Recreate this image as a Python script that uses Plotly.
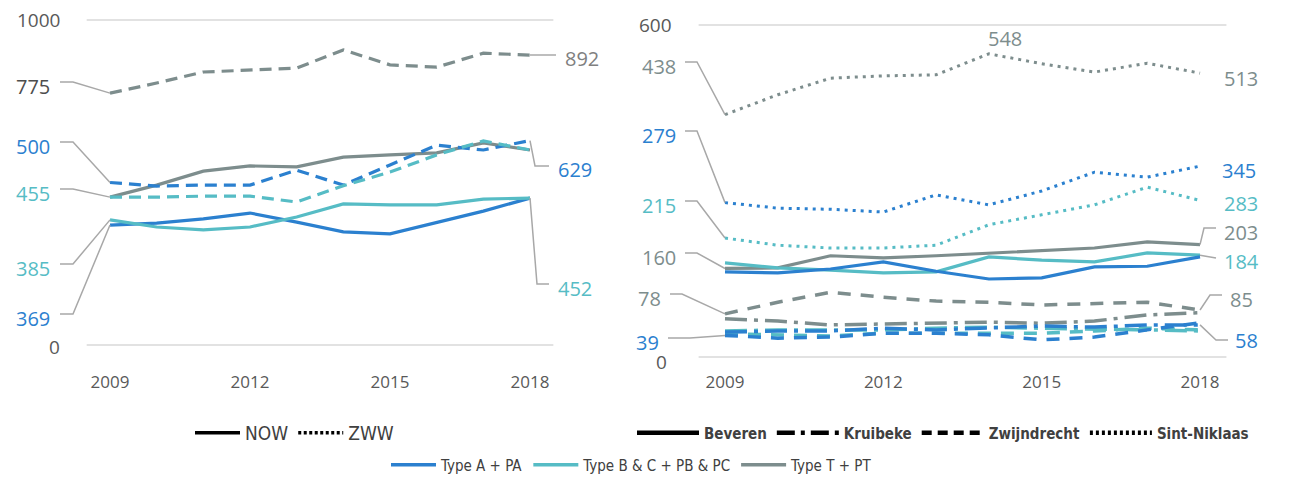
import plotly.graph_objects as go

W, H = 1297, 484
years = list(range(2009, 2019))
tick_years = [2009, 2012, 2015, 2018]

# ---- Left panel data: NOW (solid) / ZWW (dashed) ----
now_A = [369, 375, 388, 406, 378, 348, 342, 378, 412, 452]
now_B = [385, 363, 354, 363, 394, 434, 431, 431, 449, 452]
now_T = [455, 492, 535, 551, 548, 578, 585, 591, 622, 600]
zww_A = [500, 489, 492, 492, 538, 492, 554, 615, 600, 629]
zww_B = [455, 455, 458, 458, 440, 490, 532, 585, 628, 600]
zww_T = [775, 806, 840, 846, 852, 908, 862, 855, 898, 892]

# ---- Right panel data: municipalities ----
bev_A = [154, 152, 159, 172, 155, 141, 143, 163, 164, 181]
bev_B = [170, 161, 157, 152, 154, 181, 175, 172, 188, 184]
bev_T = [160, 161, 183, 179, 183, 188, 192, 197, 208, 203]
kru_A = [45, 47, 47, 52, 49, 52, 56, 54, 58, 58]
kru_B = [47, 49, 49, 49, 52, 54, 52, 51, 49, 47]
kru_T = [69, 65, 58, 60, 61, 63, 61, 65, 76, 80]
zwi_A = [39, 34, 36, 43, 43, 40, 31, 36, 49, 62]
zwi_B = [42, 40, 38, 43, 43, 43, 43, 47, 52, 49]
zwi_T = [78, 99, 117, 108, 101, 99, 94, 96, 99, 85]
sin_A = [279, 269, 267, 262, 293, 275, 300, 334, 325, 345]
sin_B = [215, 202, 197, 197, 202, 239, 257, 275, 307, 283]
sin_T = [438, 474, 504, 508, 510, 548, 530, 515, 531, 513]

BLUE, TEAL, GRAY = "#2b80cf", "#56bcc5", "#7d8d8d"
LEAD = "#a8a8a8"
AXT = "#595959"
NUMFONT = "Open Sans"
NARROW = "'DejaVu Sans Condensed', 'Liberation Sans Narrow', 'Open Sans', sans-serif"


# pixel <-> data helpers (layout only)
def xl(px): return 2009 + (px - 110) / 46.667
def yl(py): return (345 - py) / 0.325
def xr(px): return 2009 + (px - 725) / 52.78
def yr(py): return (357 - py) / 0.5533


PLOT_BOTTOM = 368
fig = go.Figure()

left_series = [
    (now_A, BLUE, "solid"), (now_B, TEAL, "solid"), (now_T, GRAY, "solid"),
    (zww_A, BLUE, "12px,7px"), (zww_B, TEAL, "12px,7px"), (zww_T, GRAY, "12px,7px"),
]
for vals, col, dash in left_series:
    fig.add_trace(go.Scatter(x=years, y=vals, mode="lines", showlegend=False,
                             line=dict(color=col, width=3.2, dash=dash),
                             xaxis="x", yaxis="y", hoverinfo="skip"))

KRU = "22px,7px,4px,7px"
ZWI = "13px,10px"
DOT = "3px,5px"
right_series = [
    (sin_T, GRAY, DOT, 3), (sin_A, BLUE, DOT, 3), (sin_B, TEAL, DOT, 3),
    (zwi_T, GRAY, ZWI, 3.5), (kru_T, GRAY, KRU, 3.5),
    (kru_B, TEAL, KRU, 3.5), (zwi_B, TEAL, ZWI, 3.5),
    (kru_A, BLUE, KRU, 3.5), (zwi_A, BLUE, ZWI, 3.5),
    (bev_T, GRAY, "solid", 3.2), (bev_B, TEAL, "solid", 3.2), (bev_A, BLUE, "solid", 3.2),
]
for vals, col, dash, w in right_series:
    fig.add_trace(go.Scatter(x=years, y=vals, mode="lines", showlegend=False,
                             line=dict(color=col, width=w, dash=dash),
                             xaxis="x2", yaxis="y2", hoverinfo="skip"))

annotations = []
shapes = []


def lead(xs, ys, ax, ay):
    fig.add_trace(go.Scatter(x=xs, y=ys, mode="lines", showlegend=False,
                             line=dict(color=LEAD, width=1.5),
                             xaxis=ax, yaxis=ay, hoverinfo="skip"))


def label(text, x, y, col, ax, ay, size=20, xanchor="left"):
    annotations.append(dict(text=text, x=x, y=y, xref=ax, yref=ay, showarrow=False,
                            xanchor=xanchor, yanchor="middle",
                            font=dict(family=NUMFONT, size=size, color=col)))


# ---- left panel gridlines / axis labels ----
for v in (0, 1000):
    shapes.append(dict(type="line", xref="x", yref="y", x0=2008.5, x1=2018.5, y0=v, y1=v,
                       line=dict(color="#d9d9d9", width=1.5)))
label("1000", xl(62), 1000, AXT, "x", "y", size=19, xanchor="right")
label("0", xl(62), yl(347), AXT, "x", "y", size=19, xanchor="right")

# start labels (left panel): text, color, series, label pixel y
left_start = [("775", "#4d4d4d", zww_T, 82), ("500", BLUE, zww_A, 142), ("455", TEAL, zww_B, 189),
              ("385", TEAL, now_B, 264), ("369", BLUE, now_A, 314)]
for t, c, s, py in left_start:
    lead([xl(60), xl(73), years[0]], [yl(py), yl(py), s[0]], "x", "y")
    label(t, xl(52), yl(py + 4), c, "x", "y", xanchor="right")

# end labels (left panel)
lead([years[-1], xl(556)], [zww_T[-1], yl(55)], "x", "y")
label("892", xl(563), yl(58), "#808080", "x", "y")
lead([years[-1], xl(535), xl(549)], [zww_A[-1], yl(166), yl(166)], "x", "y")
label("629", xl(556), yl(169), BLUE, "x", "y")
lead([years[-1], xl(537), xl(549)], [now_B[-1], yl(284), yl(284)], "x", "y")
label("452", xl(556), yl(288), TEAL, "x", "y")

# ---- right panel gridlines / axis labels ----
for v in (0, 600):
    shapes.append(dict(type="line", xref="x2", yref="y2", x0=2008.5, x1=2018.5, y0=v, y1=v,
                       line=dict(color="#d9d9d9", width=1.5)))
label("600", xr(674), 600, AXT, "x2", "y2", size=19, xanchor="right")
label("0", xr(669), yr(362), AXT, "x2", "y2", size=19, xanchor="right")

right_start = [("438", GRAY, sin_T, 62, 685, 697), ("279", BLUE, sin_A, 131, 685, 697),
               ("215", TEAL, sin_B, 201, 685, 697), ("160", GRAY, bev_T, 253, 685, 697),
               ("78", GRAY, zwi_T, 294, 670, 682), ("39", BLUE, zwi_A, 338, 668, 690)]
for t, c, s, py, x0, x1 in right_start:
    lead([xr(x0), xr(x1), years[0]], [yr(py), yr(py), s[0]], "x2", "y2")
    label(t, xr(x0 - 7), yr(py + 4), c, "x2", "y2", xanchor="right")

# end / peak labels (right panel)
label("548", xr(1005), yr(38), GRAY, "x2", "y2", xanchor="center")
label("513", xr(1222), yr(78), GRAY, "x2", "y2")
label("345", xr(1220), yr(170), BLUE, "x2", "y2")
label("283", xr(1222), yr(203), TEAL, "x2", "y2")
lead([years[-1], xr(1204), xr(1216)], [bev_T[-1], yr(228), yr(228)], "x2", "y2")
label("203", xr(1222), yr(232), GRAY, "x2", "y2")
lead([years[-1], xr(1216)], [bev_B[-1], yr(258)], "x2", "y2")
label("184", xr(1222), yr(261), TEAL, "x2", "y2")
lead([years[-1], xr(1210), xr(1222)], [zwi_T[-1], yr(295), yr(295)], "x2", "y2")
label("85", xr(1228), yr(299), GRAY, "x2", "y2")
lead([years[-1], xr(1216), xr(1228)], [kru_A[-1], yr(340), yr(340)], "x2", "y2")
label("58", xr(1233), yr(340), BLUE, "x2", "y2")

# ---- legends (dummy entries) ----
fig.add_trace(go.Scatter(x=[None], y=[None], mode="lines", name="NOW", legend="legend",
                         line=dict(color="black", width=3.5)))
fig.add_trace(go.Scatter(x=[None], y=[None], mode="lines", name="ZWW", legend="legend",
                         line=dict(color="black", width=3.5, dash="3px,2.5px")))
for nm, dash in [("Beveren", "solid"), ("Kruibeke", "18px,6px,4px,6px"),
                 ("Zwijndrecht", "10px,6px"), ("Sint-Niklaas", "3px,3px")]:
    fig.add_trace(go.Scatter(x=[None], y=[None], mode="lines", name=nm, legend="legend2",
                             line=dict(color="black", width=4.5, dash=dash)))
for nm, col in [("Type A + PA", BLUE), ("Type B & C + PB & PC", TEAL), ("Type T + PT", GRAY)]:
    fig.add_trace(go.Scatter(x=[None], y=[None], mode="lines", name=nm, legend="legend3",
                             line=dict(color=col, width=3.5)))

ydom = [1 - PLOT_BOTTOM / H, 1]
fig.update_layout(
    width=W, height=H, margin=dict(l=0, r=0, t=0, b=0, pad=0, autoexpand=False),
    paper_bgcolor="white", plot_bgcolor="white",
    xaxis=dict(domain=[0, 640 / W], range=[xl(0), xl(640)], tickvals=tick_years,
               showgrid=False, zeroline=False, showline=False, ticks="",
               tickfont=dict(family=NUMFONT, size=17, color=AXT), ticklabelstandoff=2),
    yaxis=dict(domain=ydom, range=[yl(PLOT_BOTTOM), yl(0)], visible=False),
    xaxis2=dict(domain=[640 / W, 1], range=[xr(640), xr(1297)], tickvals=tick_years,
                showgrid=False, zeroline=False, showline=False, ticks="",
                tickfont=dict(family=NUMFONT, size=17, color=AXT), ticklabelstandoff=2,
                anchor="y2"),
    yaxis2=dict(domain=ydom, range=[yr(PLOT_BOTTOM), yr(0)], visible=False, anchor="x2"),
    annotations=annotations, shapes=shapes,
    legend=dict(x=190 / W, y=1 - 433 / H, xanchor="left", yanchor="middle", orientation="h",
                font=dict(family=NARROW, size=19, color="#404040"), itemwidth=45,
                bgcolor="rgba(0,0,0,0)", tracegroupgap=0),
    legend2=dict(x=632 / W, y=1 - 433 / H, xanchor="left", yanchor="middle", orientation="h",
                 font=dict(family=NARROW, size=15, color="#404040", weight="bold"),
                 itemwidth=62, entrywidth=0, bgcolor="rgba(0,0,0,0)"),
    legend3=dict(x=632 / W, y=1 - 465 / H, xanchor="center", yanchor="middle", orientation="h",
                 font=dict(family=NARROW, size=15, color="#404040"), itemwidth=45,
                 bgcolor="rgba(0,0,0,0)"),
    showlegend=True,
)
fig.write_html("out.html", config={"displayModeBar": False},
               post_script="document.body.style.margin='0';")
